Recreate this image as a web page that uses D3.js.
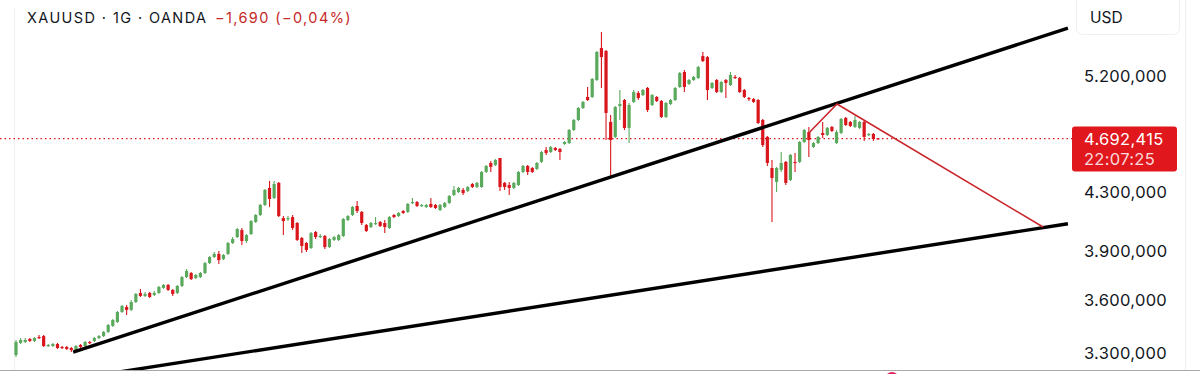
<!DOCTYPE html>
<html>
<head>
<meta charset="utf-8">
<script src="https://cdn.jsdelivr.net/npm/d3@7/dist/d3.min.js"></script>
<style>
  html, body { margin: 0; padding: 0; background: #fff; }
  svg { display: block; font-family: Inter, 'Noto Sans', sans-serif; }
</style>
</head>
<body>
<div id="root"></div>
<script>
const symbolTitle = 'XAUUSD · 1G · OANDA'
const changeText = '−1,690 (−0,04%)'
const currencyLabel = 'USD'
const lastPrice = 4692.415
const countdown = '22:07:25'
const priceTicks = [3300, 3600, 3900, 4300, 5200]

// daily candles
const opens = [
    3289, 3355, 3360, 3377, 3366, 3388, 3393, 3338, 3338, 3349,
    3333, 3333, 3327, 3311, 3344, 3338, 3360, 3366, 3382, 3393,
    3416, 3450, 3472, 3530, 3559, 3542, 3588, 3642, 3624, 3642,
    3630, 3642, 3672, 3690, 3660, 3642, 3684, 3738, 3763, 3732,
    3738, 3763, 3825, 3863, 3883, 3850, 3883, 3953, 3992, 4038,
    3966, 4012, 4092, 4139, 4208, 4327, 4256, 4363, 4118, 4112,
    4125, 4085, 3986, 3953, 3921, 4025, 3992, 3999, 3927, 3973,
    3973, 3999, 4105, 4139, 4201, 4160, 4072, 4058, 4078, 4092,
    4085, 4052, 4139, 4132, 4166, 4160, 4222, 4228, 4201, 4194,
    4215, 4208, 4173, 4194, 4222, 4277, 4298, 4313, 4306, 4355,
    4334, 4334, 4442, 4508, 4493, 4545, 4363, 4348, 4327, 4348,
    4442, 4486, 4471, 4464, 4516, 4605, 4590, 4620, 4613, 4651,
    4658, 4759, 4838, 4934, 5024, 5024, 5166, 5444, 5418, 4822,
    4705, 4950, 4999, 4775, 4983, 5057, 5040, 5099, 4958, 5024,
    4991, 4862, 4966, 4999, 5107, 5234, 5133, 5166, 5183, 5373,
    5364, 5099, 5166, 5065, 5166, 5124, 5192, 5183, 5082, 5016,
    5007, 4999, 4838, 4705, 4471, 4370, 4457, 4516, 4384, 4516,
    4516, 4666, 4743, 4628, 4658, 4736, 4720, 4783, 4658, 4736,
    4854, 4822, 4783, 4775, 4822, 4720, 4728, 4694.105
]
const highs = [
    3371, 3382, 3382, 3382, 3388, 3399, 3399, 3349, 3355, 3355,
    3338, 3338, 3333, 3344, 3349, 3366, 3366, 3388, 3399, 3421,
    3461, 3490, 3536, 3571, 3571, 3600, 3642, 3666, 3648, 3648,
    3654, 3684, 3696, 3696, 3666, 3690, 3745, 3788, 3770, 3757,
    3770, 3832, 3870, 3895, 3902, 3883, 3960, 3992, 4052, 4052,
    4012, 4105, 4146, 4215, 4320, 4377, 4377, 4370, 4132, 4132,
    4139, 4092, 3992, 3960, 4025, 4032, 4012, 4005, 3986, 3999,
    4012, 4118, 4139, 4201, 4235, 4166, 4078, 4092, 4125, 4098,
    4105, 4132, 4146, 4160, 4173, 4222, 4256, 4235, 4215, 4215,
    4256, 4215, 4215, 4228, 4277, 4341, 4334, 4327, 4341, 4363,
    4370, 4450, 4493, 4523, 4538, 4545, 4370, 4370, 4370, 4450,
    4493, 4493, 4479, 4516, 4598, 4628, 4636, 4628, 4620, 4674,
    4767, 4846, 4942, 4991, 5107, 5183, 5418, 5590, 5427, 4878,
    4950, 5082, 5007, 4975, 5082, 5074, 5090, 5107, 5049, 5032,
    4999, 4983, 5007, 5107, 5234, 5251, 5175, 5200, 5286, 5409,
    5373, 5149, 5175, 5158, 5175, 5234, 5209, 5192, 5090, 5024,
    5016, 5007, 4846, 4712, 4530, 4479, 4590, 4523, 4575, 4583,
    4674, 4767, 4783, 4666, 4712, 4822, 4783, 4790, 4759, 4854,
    4862, 4830, 4870, 4830, 4830, 4736, 4736, 4696
]
const lows = [
    3278, 3349, 3355, 3360, 3360, 3377, 3333, 3333, 3333, 3322,
    3322, 3316, 3305, 3305, 3327, 3333, 3349, 3360, 3377, 3388,
    3410, 3444, 3467, 3524, 3513, 3536, 3582, 3618, 3618, 3612,
    3624, 3636, 3666, 3654, 3624, 3636, 3678, 3732, 3720, 3726,
    3732, 3757, 3819, 3857, 3819, 3844, 3876, 3947, 3986, 3940,
    3953, 4005, 4085, 4132, 4201, 4194, 4249, 4125, 4005, 4098,
    4038, 3966, 3889, 3895, 3914, 3979, 3986, 3914, 3921, 3966,
    3966, 3992, 4098, 4132, 4153, 4072, 4025, 4052, 4072, 4058,
    4018, 4045, 4118, 4125, 4146, 4153, 4215, 4194, 4194, 4187,
    4187, 4180, 4166, 4187, 4215, 4270, 4291, 4277, 4298, 4327,
    4327, 4327, 4435, 4442, 4486, 4306, 4313, 4277, 4320, 4341,
    4435, 4420, 4435, 4457, 4508, 4568, 4583, 4598, 4530, 4643,
    4651, 4751, 4830, 4926, 4991, 5016, 5158, 5099, 4681, 4406,
    4697, 4838, 4759, 4658, 4975, 4999, 5032, 4902, 4950, 4983,
    4854, 4854, 4958, 4991, 5099, 5065, 5124, 5158, 5175, 5321,
    4999, 5090, 5057, 5057, 5016, 5116, 5175, 5057, 5016, 4991,
    4975, 4806, 4628, 4486, 4092, 4298, 4442, 4348, 4377, 4442,
    4508, 4658, 4553, 4620, 4651, 4697, 4712, 4743, 4651, 4728,
    4790, 4783, 4775, 4767, 4674, 4712, 4674, 4689
]
const closes = [
    3360, 3371, 3371, 3366, 3382, 3382, 3338, 3344, 3349, 3327,
    3327, 3322, 3316, 3338, 3333, 3360, 3355, 3382, 3393, 3416,
    3455, 3484, 3530, 3565, 3542, 3588, 3636, 3624, 3636, 3618,
    3642, 3678, 3690, 3660, 3636, 3684, 3738, 3776, 3726, 3751,
    3763, 3825, 3863, 3883, 3844, 3876, 3953, 3979, 4045, 3966,
    4005, 4098, 4139, 4208, 4313, 4249, 4355, 4132, 4098, 4118,
    4052, 3973, 3934, 3908, 4018, 3992, 3999, 3927, 3979, 3992,
    4005, 4112, 4132, 4194, 4166, 4085, 4032, 4085, 4085, 4065,
    4058, 4125, 4125, 4153, 4153, 4215, 4228, 4201, 4208, 4208,
    4194, 4187, 4208, 4222, 4270, 4313, 4327, 4291, 4334, 4334,
    4363, 4442, 4486, 4479, 4530, 4334, 4334, 4327, 4363, 4442,
    4486, 4442, 4442, 4508, 4590, 4583, 4628, 4605, 4590, 4666,
    4759, 4838, 4934, 4983, 4999, 5175, 5409, 5364, 4894, 4681,
    4942, 4966, 4775, 4958, 5065, 5016, 5082, 4918, 5040, 4991,
    4862, 4975, 4999, 5099, 5226, 5107, 5166, 5192, 5278, 5329,
    5082, 5141, 5065, 5149, 5141, 5209, 5183, 5065, 5024, 5007,
    4983, 4814, 4643, 4508, 4398, 4471, 4508, 4363, 4568, 4508,
    4666, 4759, 4681, 4658, 4705, 4720, 4775, 4751, 4743, 4846,
    4798, 4790, 4838, 4822, 4705, 4728, 4689, 4692.415
]

// drawn lines: [bar index, price]
const upperTrend = [[12.4, 3305], [228.2, 5625]]
const lowerTrend = [[18.2, 3183], [228.2, 4080]]
const projection = [[172.2, 4743], [178.1, 4966], [222.8, 4058]]

const SVG_WIDTH = 1200
const SVG_HEIGHT = 374
const PLOT_BOTTOM = 370
const FIRST_BAR_X = 16
const LAST_BAR_X = 878
const BODY_WIDTH = 3.2
const AXIS_LEFT = 1072
const LABEL_X = 1084

const GREEN = '#5aa95d'
const RED = '#d9161c'
const LABEL_RED = '#e0171d'
const TEXT = '#131722'

const fmt = d3.formatLocale({ decimal: ',', thousands: '.', grouping: [3], currency: ['', ''] }).format(',.3f')

const candles = closes.map((c, i) => ({ i, o: opens[i], h: highs[i], l: lows[i], c }))

const svg = d3.select('#root')
    .append('svg')
    .attr('width', SVG_WIDTH)
    .attr('height', SVG_HEIGHT)

const xScale = d3.scaleLinear()
    .domain([0, closes.length - 1])
    .range([FIRST_BAR_X, LAST_BAR_X])

const yScale = d3.scaleLog()
    .domain([3300, 5200])
    .range([353, 76])

svg.append('defs').append('clipPath')
    .attr('id', 'plot-clip')
    .append('rect')
    .attr('x', 0).attr('y', 0)
    .attr('width', AXIS_LEFT).attr('height', PLOT_BOTTOM)

// faint frame lines of the app screen
svg.append('line')
    .attr('x1', 14.5).attr('x2', 14.5).attr('y1', 8).attr('y2', PLOT_BOTTOM)
    .attr('stroke', '#f0f0f0')
svg.append('line')
    .attr('x1', 1185.5).attr('x2', 1185.5).attr('y1', 0).attr('y2', PLOT_BOTTOM)
    .attr('stroke', '#eeeeee')

const plot = svg.append('g').attr('clip-path', 'url(#plot-clip)')

// last price dotted line
plot.append('line')
    .attr('x1', 0).attr('x2', AXIS_LEFT)
    .attr('y1', yScale(lastPrice)).attr('y2', yScale(lastPrice))
    .attr('stroke', RED)
    .attr('stroke-width', 1.3)
    .attr('stroke-dasharray', '1.5,3')

const bars = plot.append('g')
    .selectAll('g')
    .data(candles)
    .enter()
    .append('g')

bars.append('line')
    .attr('x1', d => xScale(d.i)).attr('x2', d => xScale(d.i))
    .attr('y1', d => yScale(d.h)).attr('y2', d => yScale(d.l))
    .attr('stroke', d => d.c >= d.o ? GREEN : RED)
    .attr('stroke-width', 1.1)

bars.append('rect')
    .attr('x', d => xScale(d.i) - BODY_WIDTH / 2)
    .attr('width', BODY_WIDTH)
    .attr('y', d => yScale(Math.max(d.o, d.c)))
    .attr('height', d => Math.max(1.2, yScale(Math.min(d.o, d.c)) - yScale(Math.max(d.o, d.c))))
    .attr('fill', d => d.c >= d.o ? GREEN : RED)

const line = d3.line()
    .x(d => xScale(d[0]))
    .y(d => yScale(d[1]))

plot.append('path')
    .attr('d', line(upperTrend))
    .attr('fill', 'none')
    .attr('stroke', '#000')
    .attr('stroke-width', 3.4)

plot.append('path')
    .attr('d', line(lowerTrend))
    .attr('fill', 'none')
    .attr('stroke', '#000')
    .attr('stroke-width', 3.4)

plot.append('path')
    .attr('d', line(projection))
    .attr('fill', 'none')
    .attr('stroke', '#c9252b')
    .attr('stroke-width', 1.6)
    .attr('stroke-linejoin', 'round')

// header
const header = svg.append('text')
    .attr('x', 27)
    .attr('y', 23)
    .attr('font-size', 14.5)
    .attr('letter-spacing', 1.4)
    .attr('fill', TEXT)
header.append('tspan').text(symbolTitle)
header.append('tspan').attr('dx', 8).attr('fill', '#c62828').text(changeText)

// price axis
svg.append('rect')
    .attr('x', 1076.5).attr('y', -6.5)
    .attr('width', 103).attr('height', 41)
    .attr('rx', 6)
    .attr('fill', '#fff')
    .attr('stroke', '#efefef')

svg.append('text')
    .attr('x', 1090).attr('y', 23)
    .attr('font-size', 15.5)
    .attr('fill', TEXT)
    .text(currencyLabel)

svg.append('g')
    .selectAll('text')
    .data(priceTicks)
    .enter()
    .append('text')
    .attr('x', LABEL_X)
    .attr('y', d => yScale(d) + 6)
    .attr('font-size', 16.5)
    .attr('letter-spacing', 0.3)
    .attr('fill', TEXT)
    .text(d => fmt(d))

const tag = svg.append('g')
tag.append('rect')
    .attr('x', AXIS_LEFT).attr('y', yScale(lastPrice) - 12)
    .attr('width', 105).attr('height', 45)
    .attr('rx', 3)
    .attr('fill', LABEL_RED)
tag.append('text')
    .attr('x', LABEL_X).attr('y', yScale(lastPrice) + 6)
    .attr('font-size', 16.5)
    .attr('letter-spacing', 0.3)
    .attr('fill', '#fff')
    .text(fmt(lastPrice))
tag.append('text')
    .attr('x', LABEL_X).attr('y', yScale(lastPrice) + 26)
    .attr('font-size', 16.5)
    .attr('letter-spacing', 0.3)
    .attr('fill', '#fff')
    .attr('fill-opacity', 0.85)
    .text(countdown)

// bottom edge of the screen
svg.append('line')
    .attr('x1', 0).attr('x2', SVG_WIDTH)
    .attr('y1', PLOT_BOTTOM + 0.5).attr('y2', PLOT_BOTTOM + 0.5)
    .attr('stroke', '#a8a8a8')
svg.append('circle')
    .attr('cx', 892).attr('cy', 379)
    .attr('r', 7)
    .attr('fill', '#e0245e')
</script>
</body>
</html>
